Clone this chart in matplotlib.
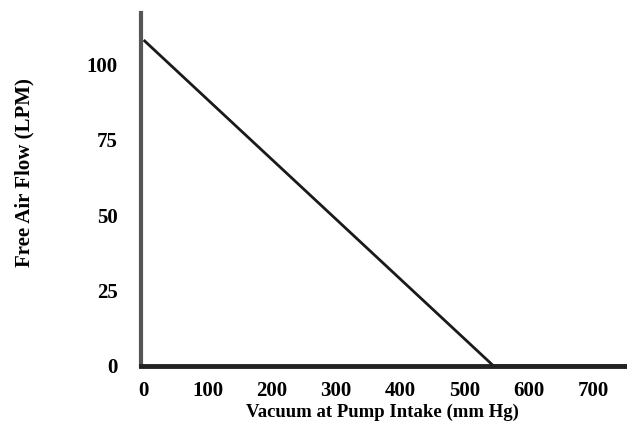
import numpy as np
import matplotlib.pyplot as plt

# pump curve
vacuum = [0, 545, 760]
flow = [108, 0, 0]

x_ticks = [0, 100, 200, 300, 400, 500, 600, 700]
y_ticks = [0, 25, 50, 75, 100]

plt.rcParams['font.family'] = ['Liberation Serif', 'DejaVu Serif']

fig = plt.figure(figsize=(6.27, 4.44), dpi=100)
ax = fig.add_axes([0.225, 0.176, 0.775, 0.795])

ax.plot(vacuum, flow, color='#1a1a1a', lw=2.0, solid_capstyle='butt')

ax.set_xlim(-4, 753)
ax.set_ylim(0, 117)

ax.spines['top'].set_visible(False)
ax.spines['right'].set_visible(False)
ax.spines['left'].set_color('#555555')
ax.spines['left'].set_linewidth(3)
ax.spines['bottom'].set_color('#222222')
ax.spines['bottom'].set_linewidth(3.5)

ax.set_xticks(x_ticks)
ax.set_yticks(y_ticks)
ax.tick_params(length=0, labelsize=15)
ax.tick_params(axis='x', pad=11)
ax.tick_params(axis='y', pad=17)
for lab in ax.get_xticklabels() + ax.get_yticklabels():
    lab.set_fontweight('bold')

ax.set_xlabel('Vacuum at Pump Intake (mm Hg)', fontsize=13.5, fontweight='bold', va='center')
ax.xaxis.set_label_coords(0.496, -0.133)
ax.set_ylabel('Free Air Flow (LPM)', fontsize=15, fontweight='bold', va='center')
ax.yaxis.set_label_coords(-0.239, 0.547)

fig.savefig('out.png', dpi=100)
